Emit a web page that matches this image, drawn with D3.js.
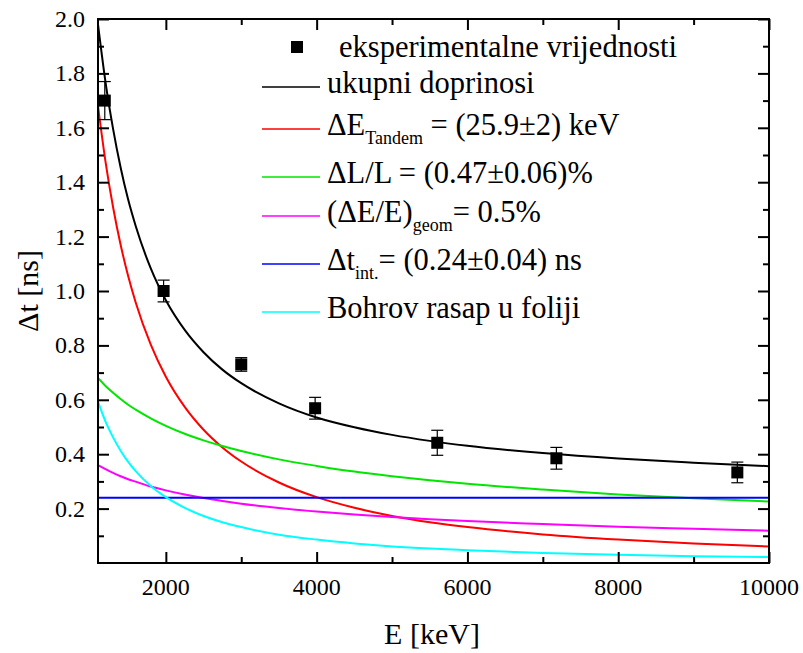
<!DOCTYPE html>
<html>
<head>
<meta charset="utf-8">
<script src="https://cdn.jsdelivr.net/npm/d3@7"></script>
<style>
  html, body { margin: 0; padding: 0; background: #fff; }
  svg { display: block; }
</style>
</head>
<body>
<svg id="chart" width="803" height="653"></svg>
<script>
// ---------- data ----------
const energies = [1100,1200,1300,1400,1500,1600,1800,2000,2250,2500,2750,3000,3500,4000,4500,5000,5500,6000,7000,8000,9000,10000];
const totalVals   = [1.98,1.767,1.596,1.454,1.336,1.239,1.083,0.966,0.857,0.775,0.711,0.661,0.587,0.535,0.499,0.471,0.449,0.431,0.404,0.384,0.369,0.356];
const tandemVals  = [1.68,1.475,1.308,1.170,1.055,0.958,0.803,0.685,0.574,0.490,0.425,0.373,0.296,0.242,0.203,0.173,0.150,0.132,0.105,0.086,0.072,0.061];
const lengthVals  = [0.680,0.651,0.626,0.603,0.582,0.564,0.532,0.504,0.475,0.451,0.430,0.412,0.381,0.357,0.336,0.319,0.304,0.291,0.270,0.252,0.238,0.226];
const geomVals    = [0.360,0.345,0.331,0.319,0.308,0.299,0.281,0.267,0.252,0.239,0.228,0.218,0.202,0.189,0.178,0.169,0.161,0.154,0.143,0.133,0.126,0.119];
const bohrVals    = [0.593,0.520,0.462,0.413,0.372,0.338,0.283,0.242,0.203,0.173,0.150,0.132,0.104,0.086,0.072,0.061,0.053,0.047,0.037,0.030,0.025,0.022];
const intEnergies = [1100,10000];
const intVals     = [0.24,0.24];

const expE   = [1190,1970,3000,3980,5600,7180,9580];
const expT   = [1.70,1.00,0.73,0.569,0.442,0.385,0.333];
const expErr = [0.07,0.04,0.025,0.04,0.046,0.04,0.038];

const xTicks = [2000,4000,6000,8000,10000];
const xMinor = [3000,5000,7000,9000];
const yTicks = [0.2,0.4,0.6,0.8,1.0,1.2,1.4,1.6,1.8,2.0];
const yMinor = [0.1,0.3,0.5,0.7,0.9,1.1,1.3,1.5,1.7,1.9];

const legendLabels = ["eksperimentalne vrijednosti","ukupni doprinosi","ΔE|Tandem| = (25.9±2) keV","ΔL/L = (0.47±0.06)%","(ΔE/E)|geom|= 0.5%","Δt|int.|= (0.24±0.04) ns","Bohrov rasap u foliji"];

// ---------- layout ----------
const FONT = "'Liberation Serif', Tinos, 'Times New Roman', Times, 'Noto Serif', 'DejaVu Serif', serif";
const svg = d3.select("#chart").attr("font-family", FONT);
const L = 98, R = 769, T = 19, B = 563;
const x = d3.scaleLinear().domain([1100,10000]).range([L,R]);
const y = d3.scaleLinear().domain([0,2.0]).range([B,T]);

svg.append("defs").append("clipPath").attr("id","clip").append("rect")
  .attr("x",L).attr("y",T).attr("width",R-L).attr("height",B-T);

const series = [
  {xs: energies, vals: tandemVals, color: "#ff0000"},
  {xs: energies, vals: lengthVals, color: "#00e600"},
  {xs: energies, vals: geomVals,   color: "#ff00ff"},
  {xs: intEnergies, vals: intVals, color: "#0000ff"},
  {xs: energies, vals: bohrVals,   color: "#00ffff"},
  {xs: energies, vals: totalVals,  color: "#000000"}
];

const line = d3.line().x(d => x(d[0])).y(d => y(d[1])).curve(d3.curveMonotoneX);
const gCurves = svg.append("g").attr("clip-path","url(#clip)");
series.forEach(s => {
  gCurves.append("path")
    .datum(s.xs.map((e,i) => [e, s.vals[i]]))
    .attr("d", line)
    .attr("fill","none")
    .attr("stroke", s.color)
    .attr("stroke-width", 2);
});

// ---------- axes ----------
const major = 11, minor = 6;
function axisSet(axisFn, scale, ticks, len, transform) {
  const g = svg.append("g").attr("transform", transform)
    .call(axisFn(scale).tickValues(ticks).tickSize(len).tickFormat(""));
  g.select(".domain").remove();
  g.selectAll(".tick line").attr("stroke","#000").attr("stroke-width",2);
  return g;
}
axisSet(d3.axisTop, x, xTicks, major, `translate(0,${B})`);
axisSet(d3.axisTop, x, xMinor, minor, `translate(0,${B})`);
axisSet(d3.axisBottom, x, xTicks, major, `translate(0,${T})`);
axisSet(d3.axisBottom, x, xMinor, minor, `translate(0,${T})`);
axisSet(d3.axisRight, y, yTicks, major, `translate(${L},0)`);
axisSet(d3.axisRight, y, yMinor, minor, `translate(${L},0)`);
axisSet(d3.axisLeft, y, yTicks, major, `translate(${R},0)`);
axisSet(d3.axisLeft, y, yMinor, minor, `translate(${R},0)`);

svg.append("rect").attr("x",L).attr("y",T).attr("width",R-L).attr("height",B-T)
  .attr("fill","none").attr("stroke","#000").attr("stroke-width",2);

// tick labels
svg.append("g").selectAll("text").data(xTicks).join("text")
  .attr("font-family", FONT)
  .attr("x", d => x(d)).attr("y", 595)
  .attr("text-anchor","middle").attr("font-size",24)
  .text(d => d3.format("d")(d));
svg.append("g").selectAll("text").data(yTicks).join("text")
  .attr("font-family", FONT)
  .attr("x", 85).attr("y", d => y(d) + 8)
  .attr("text-anchor","end").attr("font-size",24)
  .text(d => d3.format(".1f")(d));

// axis titles
svg.append("text").attr("font-family", FONT).attr("x", 432).attr("y", 644).attr("text-anchor","middle")
  .attr("font-size",30).text("E [keV]");
svg.append("text").attr("font-family", FONT).attr("transform","translate(38,291) rotate(-90)")
  .attr("text-anchor","middle").attr("font-size",30).text("Δt [ns]");

// ---------- experimental points ----------
const gPts = svg.append("g");
expE.forEach((e,i) => {
  const cx = x(e), cy = y(expT[i]);
  const y1 = y(expT[i] + expErr[i]), y2 = y(expT[i] - expErr[i]);
  gPts.append("line").attr("x1",cx).attr("x2",cx).attr("y1",y1).attr("y2",y2)
    .attr("stroke","#000").attr("stroke-width",1.2);
  [y1,y2].forEach(yy => gPts.append("line").attr("x1",cx-6).attr("x2",cx+6)
    .attr("y1",yy).attr("y2",yy).attr("stroke","#000").attr("stroke-width",1.2));
  gPts.append("rect").attr("x",cx-6).attr("y",cy-6).attr("width",12).attr("height",12)
    .attr("fill","#000");
});

// ---------- legend ----------
const leg = svg.append("g");
leg.append("rect").attr("x",291).attr("y",41).attr("width",12).attr("height",12).attr("fill","#000");
const legColors = [null,"#000000","#ff0000","#00e600","#ff00ff","#0000ff","#00ffff"];
const legBase = [57,93,135,183,222,270,318];
legendLabels.forEach((lab,i) => {
  const tx = i === 0 ? 339 : 327;
  if (legColors[i]) {
    leg.append("line").attr("x1",262).attr("x2",320)
      .attr("y1",legBase[i]-6).attr("y2",legBase[i]-6)
      .attr("stroke",legColors[i]).attr("stroke-width",1.5);
  }
  const t = leg.append("text").attr("font-family", FONT)
    .attr("x",tx).attr("y",legBase[i]).attr("font-size",30.5);
  const parts = lab.split("|");
  if (parts.length === 1) { t.text(lab); }
  else {
    t.append("tspan").text(parts[0]);
    t.append("tspan").attr("font-size",18).attr("dy",9).text(parts[1]);
    t.append("tspan").attr("dy",-9).text(parts[2]);
  }
});
</script>
</body>
</html>
